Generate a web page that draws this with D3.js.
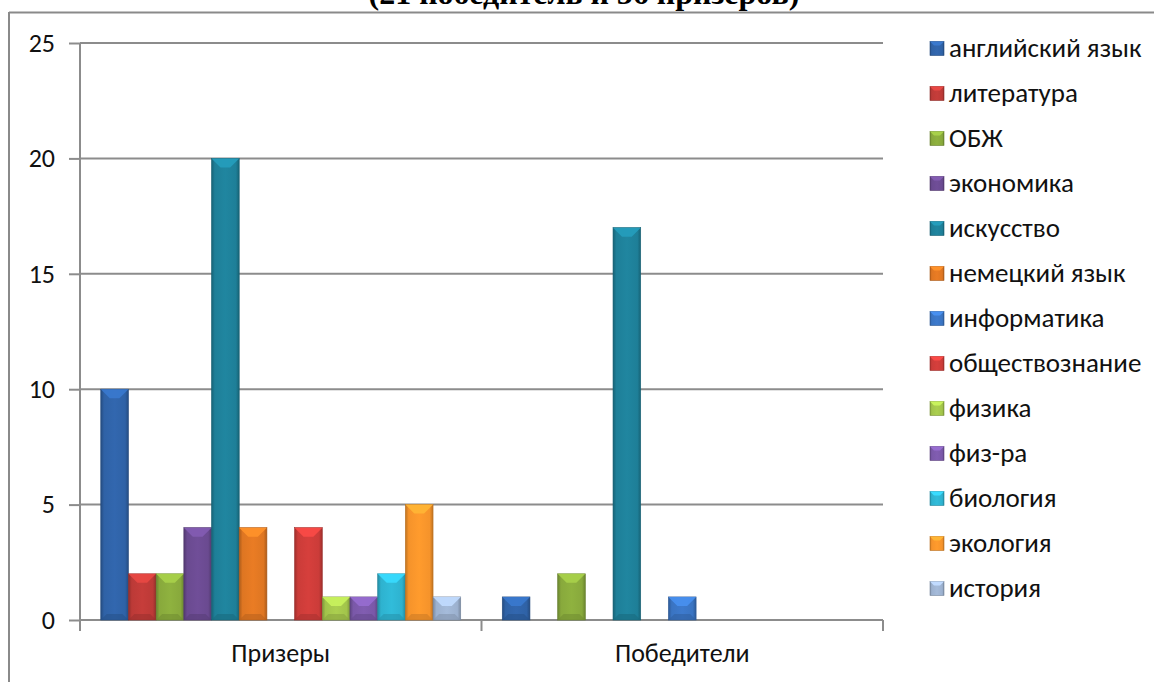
<!DOCTYPE html>
<html><head><meta charset="utf-8">
<script src="https://cdn.jsdelivr.net/npm/d3@7"></script>
<style>
body{margin:0;background:#fff;}
svg{display:block;}
</style></head>
<body><svg id="c" width="1154" height="682"></svg>
<script>
const categories = ["Призеры", "Победители"];
const series = ["английский язык","литература","ОБЖ","экономика","искусство","немецкий язык","информатика","обществознание","физика","физ-ра","биология","экология","история"];
const prizeValues =  [10, 2, 2, 4, 20, 4, 0, 4, 1, 1, 2, 5, 1];
const winnerValues = [1, 0, 2, 0, 17, 0, 1, 0, 0, 0, 0, 0, 0];
const colors = ["#2F62A6","#BC3A37","#88A93C","#6A4A90","#1E7F98","#DE7622","#3A74C2","#CB3C39","#A2C44B","#7A58A8","#2EB2CF","#F5932B","#9CB1CF"];
const yTicks = [0,5,10,15,20,25];
const titleText = "(21 победитель и 56 призеров)";

const FONT = "Carlito,Calibri,'Open Sans',sans-serif";
const svg = d3.select("#c");
const W = 1154, H = 682;
const L = 80, R = 883, T = 43, B = 620;

// document frame
svg.append("line").attr("x1",9).attr("x2",W).attr("y1",12.5).attr("y2",12.5).attr("stroke","#8a8a8a").attr("stroke-width",2);
svg.append("line").attr("x1",9).attr("x2",9).attr("y1",12).attr("y2",H).attr("stroke","#8a8a8a").attr("stroke-width",2);

// title (cut off at top in the original)
svg.append("text").attr("x",584).attr("y",4).attr("text-anchor","middle")
  .attr("font-family","'Liberation Serif','Times New Roman',serif").attr("font-weight","bold").attr("font-size",32)
  .text(titleText);

const x0 = d3.scaleBand().domain(categories).range([L,R]).paddingInner(0).paddingOuter(0);
const bw = x0.bandwidth();
const w = bw/14.5;
const xs = d3.scaleBand().domain(series).range([0.75*w, bw-0.75*w]).padding(0);
const y = d3.scaleLinear().domain([0,25]).range([B,T]);

// gridlines
svg.append("g").selectAll("line").data(yTicks.filter(d=>d>0)).join("line")
  .attr("x1",L).attr("x2",R).attr("y1",d=>y(d)).attr("y2",d=>y(d))
  .attr("stroke","#8c8c8c").attr("stroke-width",2);

// y axis
const ya = svg.append("g").attr("transform",`translate(${L},0)`)
  .call(d3.axisLeft(y).tickValues(yTicks).tickSize(11).tickPadding(14));
ya.select(".domain").attr("stroke","#8c8c8c").attr("stroke-width",2).attr("d",`M0,${T}V${B}`);
ya.selectAll(".tick line").attr("stroke","#8c8c8c").attr("stroke-width",2);
ya.selectAll("text").attr("font-family",FONT).attr("font-size",26).attr("fill","#111");

// x axis
const xa = svg.append("g").attr("transform",`translate(0,${B})`)
  .call(d3.axisBottom(x0).tickSize(0).tickPadding(24));
xa.select(".domain").attr("stroke","#8c8c8c").attr("stroke-width",2).attr("d",`M${L},0H${R}`);
xa.selectAll("text").attr("font-family",FONT).attr("font-size",26).attr("fill","#111");
svg.append("g").selectAll("line").data([L, L+bw, R]).join("line")
  .attr("x1",d=>d).attr("x2",d=>d).attr("y1",B).attr("y2",B+11)
  .attr("stroke","#8c8c8c").attr("stroke-width",2);

// gradients
const defs = svg.append("defs");
colors.forEach((c,i)=>{
  const g = defs.append("linearGradient").attr("id","g"+i).attr("x1","0").attr("x2","1").attr("y1","0").attr("y2","0");
  const dc = d3.color(c).darker(0.7), lc = d3.color(c).brighter(0.15);
  g.append("stop").attr("offset","0").attr("stop-color",dc);
  g.append("stop").attr("offset","0.12").attr("stop-color",c);
  g.append("stop").attr("offset","0.5").attr("stop-color",lc);
  g.append("stop").attr("offset","0.88").attr("stop-color",c);
  g.append("stop").attr("offset","1").attr("stop-color",dc);
});

const data = [];
categories.forEach((cat,ci)=>{
  const vals = ci===0 ? prizeValues : winnerValues;
  series.forEach((s,si)=>{ data.push({cat, s, si, v: vals[si]}); });
});
const bars = data.filter(d=>d.v>0);
const bx = d => x0(d.cat)+xs(d.s);
const bwid = xs.bandwidth();

svg.append("g").selectAll("rect").data(bars).join("rect")
  .attr("x",bx).attr("y",d=>y(d.v)).attr("width",bwid).attr("height",d=>B-y(d.v))
  .attr("fill",d=>`url(#g${d.si})`).attr("stroke",d=>d3.color(colors[d.si]).darker(0.8)).attr("stroke-width",0.6);
// top bevel
svg.append("g").selectAll("path").data(bars).join("path")
  .attr("d",d=>{const x=bx(d), t=y(d.v), h=Math.min(9,(B-y(d.v))/2);
    return `M${x},${t}L${x+bwid},${t}L${x+bwid-h},${t+h}L${x+h},${t+h}Z`;})
  .attr("fill",d=>d3.color(colors[d.si]).brighter(0.6)).attr("opacity",0.9);
// bottom bevel shade
svg.append("g").selectAll("path").data(bars).join("path")
  .attr("d",d=>{const x=bx(d), h=Math.min(6,(B-y(d.v))/2);
    return `M${x},${B}L${x+bwid},${B}L${x+bwid-h},${B-h}L${x+h},${B-h}Z`;})
  .attr("fill",d=>d3.color(colors[d.si]).darker(0.5)).attr("opacity",0.6);

// legend
const lg = svg.append("g");
const ly = d3.scaleBand().domain(series).range([26, 611]);
const items = lg.selectAll("g").data(series).join("g")
  .attr("transform",d=>`translate(930,${ly(d)+ly.bandwidth()/2})`);
items.append("rect").attr("x",0).attr("y",-7).attr("width",14).attr("height",14)
  .attr("fill",(d,i)=>`url(#g${i})`).attr("stroke",(d,i)=>d3.color(colors[i]).darker(0.8)).attr("stroke-width",0.6);
items.append("path").attr("d","M0,-7L14,-7L10,-3L4,-3Z").attr("fill",(d,i)=>d3.color(colors[i]).brighter(0.6));
items.append("text").attr("x",19).attr("y",0).attr("dy","0.33em")
  .attr("font-family",FONT).attr("font-size",27).attr("fill","#111").text(d=>d);
</script></body></html>
